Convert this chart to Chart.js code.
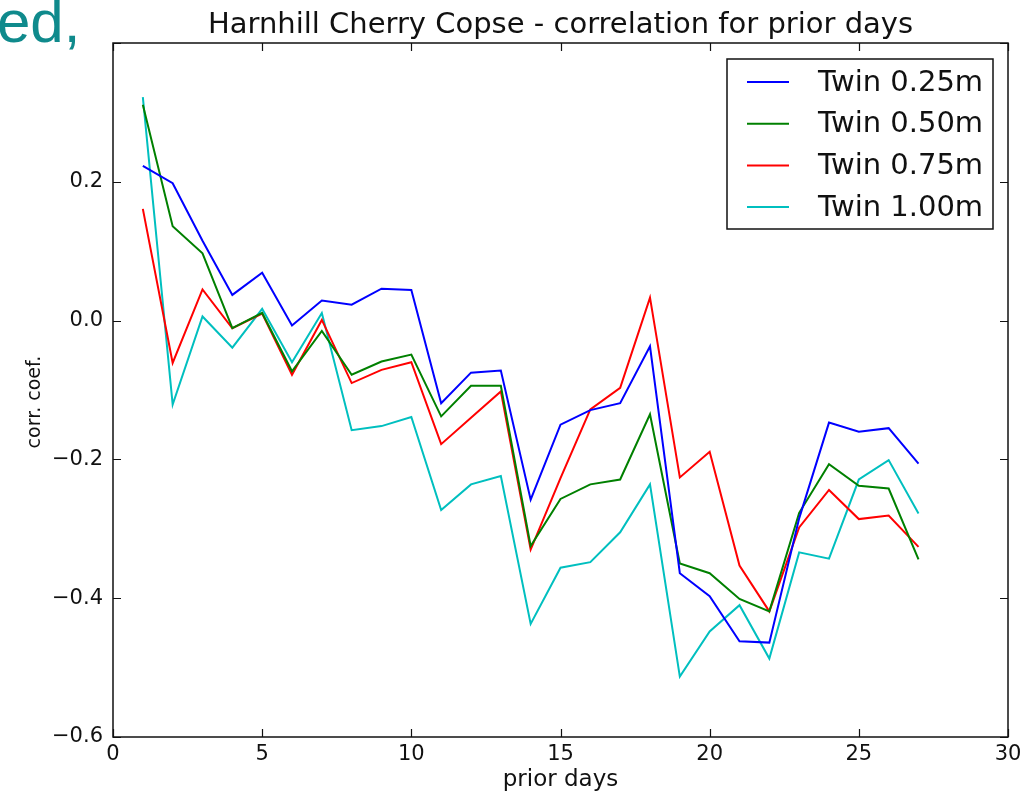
<!DOCTYPE html>
<html>
<head>
<meta charset="utf-8">
<script src="https://cdn.jsdelivr.net/npm/chart.js@4.4.1/dist/chart.umd.min.js"></script>
<style>
  html, body { margin: 0; padding: 0; background: #fff; }
  #wrap { position: relative; width: 1032px; height: 793px; overflow: hidden; }
  #c { position: absolute; left: 0; top: 0; }
  #frag { position: absolute; left: -3px; top: -8px; font-family: "Liberation Sans", Arial, sans-serif; font-size: 60px; color: #0f8a8c; line-height: 1; }
</style>
</head>
<body>
<div id="wrap">
  <canvas id="c" width="1032" height="793"></canvas>
  <div id="frag">ed,</div>
</div>
<script>
const days = [1,2,3,4,5,6,7,8,9,10,11,12,13,14,15,16,17,18,19,20,21,22,23,24,25,26,27];
const twin025 = [0.223,0.198,0.115,0.037,0.069,-0.007,0.029,0.023,0.046,0.044,-0.119,-0.075,-0.072,-0.258,-0.150,-0.129,-0.119,-0.037,-0.364,-0.397,-0.462,-0.464,-0.285,-0.147,-0.160,-0.155,-0.206];
const twin050 = [0.311,0.136,0.097,-0.011,0.011,-0.073,-0.015,-0.078,-0.059,-0.049,-0.138,-0.094,-0.094,-0.325,-0.257,-0.236,-0.229,-0.135,-0.350,-0.364,-0.401,-0.419,-0.277,-0.207,-0.238,-0.242,-0.344];
const twin075 = [0.161,-0.061,0.045,-0.011,0.010,-0.078,0.001,-0.090,-0.071,-0.060,-0.178,-0.140,-0.102,-0.330,-0.227,-0.128,-0.097,0.033,-0.226,-0.189,-0.353,-0.419,-0.298,-0.244,-0.286,-0.281,-0.326];
const twin100 = [0.322,-0.121,0.006,-0.039,0.017,-0.060,0.011,-0.158,-0.152,-0.139,-0.273,-0.236,-0.224,-0.437,-0.356,-0.348,-0.305,-0.236,-0.513,-0.448,-0.410,-0.487,-0.334,-0.343,-0.229,-0.201,-0.278];
const seriesLabels = ["Twin 0.25m","Twin 0.50m","Twin 0.75m","Twin 1.00m"];
const seriesColors = ["#0000ff","#008000","#ff0000","#00bfbf"];
const xTicks = [0,5,10,15,20,25,30];
const yTicks = [-0.6,-0.4,-0.2,0.0,0.2,0.4];
const titleText = "Harnhill Cherry Copse - correlation for prior days";
const xLabel = "prior days";
const yLabel = "corr. coef.";

const FONT = '"DejaVu Sans", sans-serif';
const seriesValues = [twin025, twin050, twin075, twin100];

function fmtY(v) {
  const s = Math.abs(v).toFixed(1);
  return (v < -1e-9 ? "\u2212" : "") + s;
}

const decor = {
  id: 'decor',
  afterDatasetsDraw(chart) {
    const ctx = chart.ctx;
    const a = chart.chartArea;
    const xs = chart.scales.x, ys = chart.scales.y;
    ctx.save();
    // frame
    ctx.strokeStyle = '#111';
    ctx.lineWidth = 1.5;
    ctx.strokeRect(a.left, a.top, a.right - a.left, a.bottom - a.top);
    // inward ticks
    ctx.lineWidth = 1.2;
    const L = 8;
    ctx.beginPath();
    xTicks.forEach(v => {
      const px = Math.round(xs.getPixelForValue(v)) + 0.5;
      ctx.moveTo(px, a.bottom); ctx.lineTo(px, a.bottom - L);
      ctx.moveTo(px, a.top); ctx.lineTo(px, a.top + L);
    });
    yTicks.forEach(v => {
      const py = Math.round(ys.getPixelForValue(v)) + 0.5;
      ctx.moveTo(a.left, py); ctx.lineTo(a.left + L, py);
      ctx.moveTo(a.right, py); ctx.lineTo(a.right - L, py);
    });
    ctx.stroke();
    // tick labels
    ctx.fillStyle = '#111';
    ctx.font = '21px ' + FONT;
    ctx.textAlign = 'center'; ctx.textBaseline = 'top';
    xTicks.forEach(v => {
      ctx.fillText(String(v), xs.getPixelForValue(v), a.bottom + 7);
    });
    ctx.textAlign = 'right'; ctx.textBaseline = 'middle';
    yTicks.forEach(v => {
      if (v > 0.3) return;
      ctx.fillText(fmtY(v), a.left - 10, ys.getPixelForValue(v));
    });
    // axis labels
    ctx.font = '23px ' + FONT;
    ctx.textAlign = 'center'; ctx.textBaseline = 'alphabetic';
    ctx.fillText(xLabel, (a.left + a.right) / 2, 786);
    ctx.save();
    ctx.translate(40, 402);
    ctx.rotate(-Math.PI / 2);
    ctx.font = '19px ' + FONT;
    ctx.fillText(yLabel, 0, 0);
    ctx.restore();
    // title
    ctx.font = '29px ' + FONT;
    ctx.textAlign = 'center'; ctx.textBaseline = 'alphabetic';
    ctx.fillText(titleText, (a.left + a.right) / 2, 33);
    // legend
    const bx = 727, by = 59, bw = 266, bh = 170;
    ctx.fillStyle = '#fff';
    ctx.fillRect(bx, by, bw, bh);
    ctx.strokeStyle = '#111';
    ctx.lineWidth = 1.5;
    ctx.strokeRect(bx, by, bw, bh);
    ctx.font = '29px ' + FONT;
    ctx.textAlign = 'left'; ctx.textBaseline = 'middle';
    chart.data.datasets.forEach((ds, i) => {
      const yy = 82 + i * 41.7;
      ctx.strokeStyle = ds.borderColor;
      ctx.lineWidth = 2;
      ctx.beginPath(); ctx.moveTo(747, yy); ctx.lineTo(789, yy); ctx.stroke();
      ctx.fillStyle = '#111';
      ctx.fillText(ds.label, 818, yy + 1);
    });
    ctx.restore();
  }
};

new Chart(document.getElementById('c'), {
  type: 'line',
  data: {
    datasets: seriesValues.map((vals, i) => ({
      label: seriesLabels[i],
      data: days.map((d, j) => ({ x: d, y: vals[j] })),
      borderColor: seriesColors[i],
      backgroundColor: seriesColors[i],
      borderWidth: 2,
      pointRadius: 0,
      tension: 0,
      fill: false
    }))
  },
  options: {
    responsive: false,
    animation: false,
    devicePixelRatio: 1,
    layout: { padding: { top: 43, right: 24, left: 0, bottom: 0 } },
    plugins: { legend: { display: false }, title: { display: false }, tooltip: { enabled: false } },
    scales: {
      x: {
        type: 'linear', min: 0, max: 30,
        ticks: { display: false, stepSize: 5 },
        grid: { display: false },
        border: { display: false },
        afterFit(s) { s.height = 56; }
      },
      y: {
        type: 'linear', min: -0.6, max: 0.4,
        ticks: { display: false, stepSize: 0.2 },
        grid: { display: false },
        border: { display: false },
        afterFit(s) { s.width = 113; }
      }
    }
  },
  plugins: [decor]
});
</script>
</body>
</html>
